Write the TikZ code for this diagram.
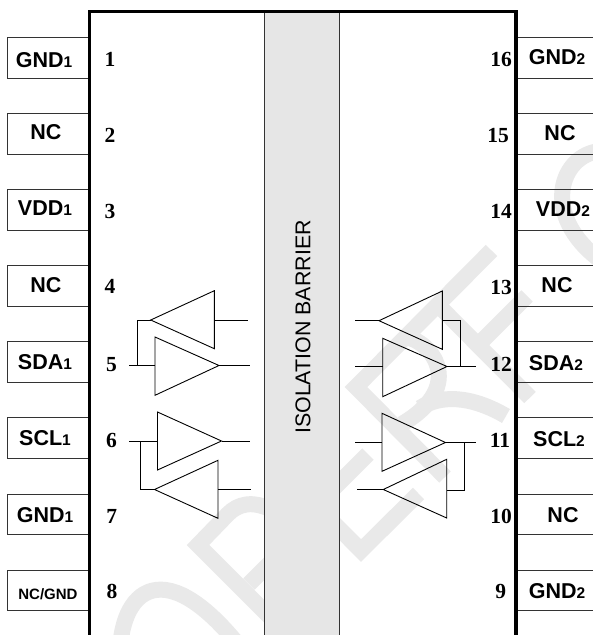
\documentclass[tikz,border=0pt]{standalone}
\usepackage{fontspec}
\setmainfont{Liberation Sans}
\newfontfamily\numfont{Liberation Serif}
\definecolor{wm}{HTML}{E9E9E9}
\definecolor{barrierfill}{HTML}{E6E6E6}
\definecolor{linegray}{HTML}{333333}
\tikzset{
  wmark/.style={draw=wm,line width=16pt,line cap=butt,line join=miter},
  chipedge/.style={draw=black,line width=3.1pt,line join=miter},
  pinedge/.style={draw=linegray,line width=0.9pt},
  wire/.style={draw=black,line width=0.9pt},
  buffer/.style={draw=black,line width=0.9pt,line join=miter,fill=none},
  pinlabel/.style={inner sep=0pt,text height=15pt,text depth=0pt,font=\fontsize{21.5}{21.5}\selectfont\bfseries},
  pinlabelsmall/.style={inner sep=0pt,text height=11pt,text depth=0pt,font=\fontsize{15}{15}\selectfont\bfseries},
  pinnum/.style={inner sep=0pt,text height=14pt,text depth=0pt,font=\fontsize{21.5}{21.5}\selectfont\numfont\bfseries},
  barrierlabel/.style={inner sep=0pt,rotate=90,font=\fontsize{21.4}{21.4}\selectfont}
}
\newcommand{\pinsub}[1]{{\fontsize{15.5}{15.5}\selectfont #1}}
\begin{document}
\begin{tikzpicture}[x=1pt,y=-1pt]
\path[use as bounding box,clip] (0,0) rectangle (593,635);
\fill[white] (0,0) rectangle (593,635);
% watermark
\draw[wmark] (120,660) .. controls (118,590) and (165,545) .. (250,660);
\draw[wmark] (272,510) .. controls (252,500) and (238,504) .. (228,514) -- (198,545) -- (290,637);
\draw[wmark] (249,584) -- (275,558);
\draw[wmark] (277,466) -- (361,550.5) -- (418.5,493.5);
\draw[wmark] (318,504) -- (368,454);
\draw[wmark] (445,477) -- (356,387) -- (491.5,250.5);
\draw[wmark] (405,337) .. controls (430,340) and (468,385) .. (402,424);
\draw[wmark] (420,408) .. controls (440,395) and (470,395) .. (506,416);
\draw[wmark] (438,305) -- (530,397.5);
\draw[wmark] (478,345) -- (527,296);
\draw[wmark] (600,151) .. controls (560,155) and (540,215) .. (600,260);
% barrier
\node[draw=linegray,line width=0.9pt,fill=barrierfill,minimum width=75pt,minimum height=640pt,inner sep=0pt] (barrier) at (302.3,332) {};
\node[barrierlabel] (barriertext) at (303,327) {ISOLATION BARRIER};
% pin boxes left
\foreach \n/\y in {1/37.3,2/113.3,3/189.5,4/265.5,5/341.5,6/417.5,7/494,8/570}{
  \coordinate (L\n a) at (89.7,\y);
  \coordinate (L\n b) at (7.8,\y);
  \coordinate (L\n c) at (7.8,\y+40.7);
  \coordinate (L\n d) at (89.7,\y+40.7);
  \draw[pinedge] (L\n a) -- (L\n b) -- (L\n c) -- (L\n d);
}
% pin boxes right
\foreach \n/\y in {16/37.3,15/113.3,14/189.5,13/265.5,12/341.5,11/417.5,10/494,9/570}{
  \coordinate (R\n a) at (516,\y);
  \coordinate (R\n b) at (600,\y);
  \coordinate (R\n c) at (516,\y+40.7);
  \coordinate (R\n d) at (600,\y+40.7);
  \draw[pinedge] (R\n a) -- (R\n b);
  \draw[pinedge] (R\n c) -- (R\n d);
}
% chip outline
\coordinate (chipBL) at (89.7,640);
\coordinate (chipTL) at (89.7,11.7);
\coordinate (chipTR) at (516,11.7);
\coordinate (chipBR) at (516,640);
\draw[chipedge] (chipBL) -- (chipTL) -- (chipTR) -- (chipBR);
% pin labels
\node[pinlabel] (t1) at (44,60) {GND\pinsub{1}};
\node[pinlabel] (t2) at (46,131.7) {NC};
\node[pinlabel] (t3) at (45,208) {VDD\pinsub{1}};
\node[pinlabel] (t4) at (46,284.5) {NC};
\node[pinlabel] (t5) at (45,362) {SDA\pinsub{1}};
\node[pinlabel] (t6) at (45,438) {SCL\pinsub{1}};
\node[pinlabel] (t7) at (45,515) {GND\pinsub{1}};
\node[pinlabelsmall] (t8) at (48,594) {NC/GND};
\node[pinlabel] (t16) at (557,57) {GND\pinsub{2}};
\node[pinlabel] (t15) at (560,132.7) {NC};
\node[pinlabel] (t14) at (563,209) {VDD\pinsub{2}};
\node[pinlabel] (t13) at (557,285) {NC};
\node[pinlabel] (t12) at (556,363) {SDA\pinsub{2}};
\node[pinlabel] (t11) at (559,439) {SCL\pinsub{2}};
\node[pinlabel] (t10) at (563,515) {NC};
\node[pinlabel] (t9) at (557,590.7) {GND\pinsub{2}};
% pin numbers
\node[pinnum] (n1) at (110,59) {1};
\node[pinnum] (n2) at (110,135) {2};
\node[pinnum] (n3) at (110,211) {3};
\node[pinnum] (n4) at (110,286.7) {4};
\node[pinnum] (n5) at (111.5,364) {5};
\node[pinnum] (n6) at (111.5,440.7) {6};
\node[pinnum] (n7) at (111.7,516.7) {7};
\node[pinnum] (n8) at (112,591.7) {8};
\node[pinnum] (n16) at (501,59) {16};
\node[pinnum] (n15) at (498,135) {15};
\node[pinnum] (n14) at (501,211.7) {14};
\node[pinnum] (n13) at (501,287) {13};
\node[pinnum] (n12) at (501,364) {12};
\node[pinnum] (n11) at (500,440.7) {11};
\node[pinnum] (n10) at (501,516.7) {10};
\node[pinnum] (n9) at (500.7,591.7) {9};
% left buffers
\coordinate (a1) at (150.7,320);
\coordinate (b1) at (214.3,320);
\coordinate (a2) at (219,365.5);
\coordinate (b2) at (155,365.5);
\coordinate (a3) at (221.5,441);
\coordinate (b3) at (157.5,441);
\coordinate (a4) at (154.5,489.5);
\coordinate (b4) at (218,489.5);
\draw[buffer] (a1) -- (214.3,290.7) -- (214.3,348.7) -- cycle;
\draw[buffer] (a2) -- (155,337) -- (155,395.3) -- cycle;
\draw[buffer] (a3) -- (157.5,412) -- (157.5,470) -- cycle;
\draw[buffer] (a4) -- (218,460.3) -- (218,518.3) -- cycle;
\coordinate (o1) at (248,320);
\coordinate (o2) at (249.5,365.5);
\coordinate (o3) at (249.5,441);
\coordinate (o4) at (251,489.5);
\coordinate (i2) at (129,365.5);
\coordinate (i3) at (129,441);
\coordinate (j2) at (137,365.5);
\coordinate (j3) at (140,441);
\draw[wire] (b1) -- (o1);
\draw[wire] (a2) -- (o2);
\draw[wire] (a3) -- (o3);
\draw[wire] (b4) -- (o4);
\draw[wire] (i2) -- (b2);
\draw[wire] (i3) -- (b3);
\draw[wire] (j2) |- (a1);
\draw[wire] (j3) |- (a4);
% right buffers
\coordinate (a5) at (379,320.7);
\coordinate (b5) at (442.3,320.7);
\coordinate (a6) at (447,366.5);
\coordinate (b6) at (382.7,366.5);
\coordinate (a7) at (445.5,442.5);
\coordinate (b7) at (382,442.5);
\coordinate (a8) at (383.3,489.5);
\coordinate (b8) at (446.7,490);
\draw[buffer] (a5) -- (442.3,291) -- (442.3,349.3) -- cycle;
\draw[buffer] (a6) -- (382.7,338.3) -- (382.7,396.7) -- cycle;
\draw[buffer] (a7) -- (382,413.3) -- (382,471.3) -- cycle;
\draw[buffer] (a8) -- (446.7,459.3) -- (446.7,518) -- cycle;
\coordinate (o5) at (355,320.7);
\coordinate (o6) at (475.7,366.5);
\coordinate (o7) at (475.7,442.5);
\coordinate (o8) at (357,489.5);
\coordinate (i6) at (355,366.5);
\coordinate (i7) at (355,442.5);
\coordinate (j6) at (460.3,366.5);
\coordinate (j7) at (464.7,442.5);
\draw[wire] (o5) -- (a5);
\draw[wire] (a6) -- (o6);
\draw[wire] (a7) -- (o7);
\draw[wire] (o8) -- (a8);
\draw[wire] (i6) -- (b6);
\draw[wire] (i7) -- (b7);
\draw[wire] (j6) |- (b5);
\draw[wire] (j7) |- (b8);
\end{tikzpicture}
\end{document}
